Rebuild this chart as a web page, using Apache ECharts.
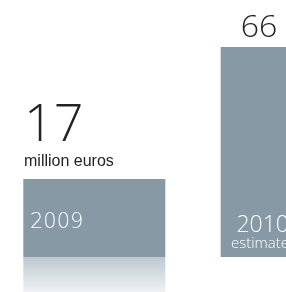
<!DOCTYPE html>
<html>
<head>
<meta charset="utf-8">
<script src="https://cdn.jsdelivr.net/npm/echarts@6/dist/echarts.min.js"></script>
<style>
  html, body { margin: 0; padding: 0; background: #fff; }
  #chart { width: 286px; height: 292px; }
</style>
</head>
<body>
<div id="chart"></div>
<script>
// data
const years = ['2009', '2010']
const yearNotes = ['', 'estimate']
const values = [17, 66]
const valueUnits = ['million euros', '']
// band at the foot of each bar that carries the year text
const labelBand = [12, 12]
// mirrored fade under the first bar only
const reflection = [-13, 0]

const barColor = '#8699a5'
const chart = echarts.init(document.getElementById('chart'))

const yearLayout = [
  { x: 30, y: 223, align: 'left', verticalAlign: 'middle' },
  { x: 289, y: 233, align: 'right', verticalAlign: 'middle' }
]
const valueLayout = [
  { x: 24, y: 171, align: 'left', verticalAlign: 'bottom' },
  { x: 259, y: 44, align: 'center', verticalAlign: 'bottom' }
]

const series = []
years.forEach((year, i) => {
  series.push({
    name: year,
    type: 'bar',
    stack: year,
    clip: false,
    barWidth: 142,
    barGap: '39%',
    // bar = year band + value
    data: [labelBand[i] + values[i]],
    itemStyle: { color: barColor },
    emphasis: { disabled: true },
    label: {
      show: true,
      formatter: valueUnits[i] ? '{big|' + values[i] + '}\n{unit|' + valueUnits[i] + '}' : '{mid|' + values[i] + '}',
      rich: {
        big: { fontFamily: 'Open Sans', fontWeight: 300, fontSize: 52, color: '#222', lineHeight: 54 },
        mid: { fontFamily: 'Open Sans', fontWeight: 300, fontSize: 32, color: '#222', lineHeight: 32 },
        unit: { fontFamily: 'Liberation Sans', fontSize: 16, color: '#222', lineHeight: 18 }
      }
    },
    labelLayout: valueLayout[i]
  })
  series.push({
    name: year + ' reflection',
    type: 'bar',
    stack: year,
    clip: false,
    barWidth: 142,
    barGap: '39%',
    data: [reflection[i]],
    emphasis: { disabled: true },
    itemStyle: {
      color: new echarts.graphic.LinearGradient(0, 0, 0, 1, [
        { offset: 0, color: '#bcc8cf' },
        { offset: 1, color: '#f0f2f4' }
      ])
    },
    label: {
      show: true,
      formatter: yearNotes[i] ? '{year' + i + '|' + year + '}\n{note|' + yearNotes[i] + '}' : '{year' + i + '|' + year + '}',
      rich: {
        year0: { fontFamily: 'DejaVu Sans', fontWeight: 200, fontSize: 21, color: '#fff', lineHeight: 21 },
        year1: { fontFamily: 'Open Sans', fontWeight: 300, fontSize: 23, color: '#fff', lineHeight: 21 },
        note: { fontFamily: 'Open Sans', fontWeight: 300, fontSize: 15, color: '#fff', lineHeight: 15 }
      }
    },
    labelLayout: yearLayout[i]
  })
})

chart.setOption({
  animation: false,
  grid: { left: 100, right: 0, top: 47, bottom: 0 },
  xAxis: {
    type: 'category',
    data: ['euros'],
    show: false,
    axisLine: { show: false }
  },
  yAxis: {
    type: 'value',
    min: -13,
    max: 78,
    show: false,
    splitLine: { show: false }
  },
  series: series
})
</script>
</body>
</html>
